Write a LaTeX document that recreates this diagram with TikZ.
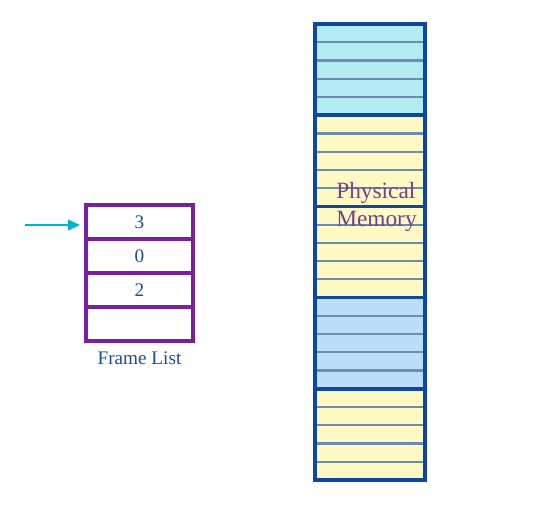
\documentclass[tikz,border=0pt]{standalone}
\usepackage{fontspec}
\setmainfont{Liberation Serif}
\usepackage{tikz}
\usetikzlibrary{positioning,arrows.meta}
\definecolor{memcyan}{HTML}{B2EBF2}
\definecolor{memyellow}{HTML}{FFF9C4}
\definecolor{memblue}{HTML}{BBDEFB}
\definecolor{memedge}{HTML}{0D47A1}
\definecolor{rowedge}{HTML}{6A8DB5}
\definecolor{listedge}{HTML}{7B1FA2}
\definecolor{listtext}{HTML}{1A4C9E}
\definecolor{labelpurple}{HTML}{7A3F8C}
\definecolor{ptrcol}{HTML}{00B4D0}
\tikzset{
  rowline/.style={draw=rowedge, line width=1.6pt},
  blockline/.style={draw=memedge, line width=2.6pt},
  slot/.style={draw=listedge, line width=3pt, minimum width=80.25pt, minimum height=25.5pt,
    inner sep=0pt, text=listtext, font=\fontsize{14.4}{16}\selectfont},
  ptr/.style={draw=ptrcol, line width=1.2pt, -{Triangle[length=9pt,width=8pt]}, shorten >=3pt}
}

\begin{document}
\begin{tikzpicture}[x=0.75pt,y=-0.75pt]
  \useasboundingbox (0,0) rectangle (547,505);
  % physical memory: five blocks of five frames
  \foreach \top/\col in {24/memcyan,115.2/memyellow,206.4/memyellow,297.6/memblue,388.8/memyellow}{
    \fill[\col] (315,\top) rectangle (425,\top+91.2);
    \foreach \i in {1,...,4}
      \draw[rowline] (315,\top+\i*18.24) -- (425,\top+\i*18.24);
    \draw[blockline] (315,\top) rectangle (425,\top+91.2);
  }
  \node[text=labelpurple, align=left, font=\fontsize{17.5}{21}\selectfont] (mem) at (376.5,207) {Physical\\Memory};
  % frame list
  \node[slot] (f1) at (139.5,222.5) {3};
  \node[slot] (f2) at (139.5,256.5) {0};
  \node[slot] (f3) at (139.5,290.5) {2};
  \node[slot] (f4) at (139.5,324.5) {};
  \node[text=listtext, font=\fontsize{14.4}{16}\selectfont] (fl) at (139.5,358) {Frame List};
  \coordinate (src) at (25,225);
  \draw[ptr] (src) -- (src -| f1.west);
\end{tikzpicture}
\end{document}
